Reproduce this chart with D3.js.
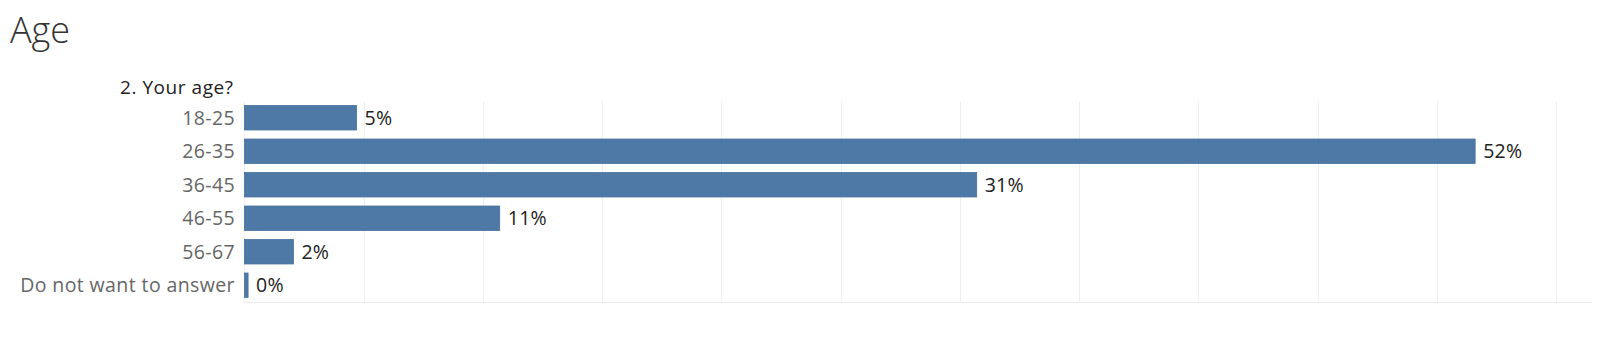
<!DOCTYPE html>
<html>
<head>
<meta charset="utf-8">
<script src="https://cdn.jsdelivr.net/npm/d3@7"></script>
<style>
  body { margin: 0; background: #fff; }
  text { font-family: "Open Sans", sans-serif; }
</style>
</head>
<body>
<div id="chart"></div>
<script>
// data (shares of respondents)
var categories = ["18-25", "26-35", "36-45", "46-55", "56-67", "Do not want to answer"];
var shares = [0.047, 0.516, 0.307, 0.107, 0.0205, 0.0015];
var gridTicks = [0.05, 0.10, 0.15, 0.20, 0.25, 0.30, 0.35, 0.40, 0.45, 0.50, 0.55];

var width = 1600, height = 341;
// plot area (note: "top" is reserved on window, so use other names)
var plotLeft = 244.5, plotRight = 1592, plotTop = 101, plotBottom = 302;

var svg = d3.select("#chart").append("svg")
  .attr("width", width)
  .attr("height", height);

var x = d3.scaleLinear().domain([0, 0.565]).range([plotLeft, plotRight]);
var y = d3.scaleBand().domain(categories).range([plotTop, plotBottom])
  .paddingInner(0.27).paddingOuter(0.135);
var fmt = d3.format(".0%");

// title
svg.append("text")
  .attr("x", 10).attr("y", 42.5)
  .attr("font-size", 36).attr("font-weight", 300)
  .attr("fill", "#333")
  .text("Age");

// header of the row shelf
svg.append("text")
  .attr("x", 120).attr("y", 94)
  .attr("font-size", 19).attr("font-weight", 500)
  .attr("textLength", 113).attr("lengthAdjust", "spacing")
  .attr("fill", "#222")
  .text("2. Your age?");

// gridlines
svg.append("g").selectAll("line")
  .data(gridTicks)
  .join("line")
  .attr("x1", function(d) { return Math.round(x(d)) + 0.5; })
  .attr("x2", function(d) { return Math.round(x(d)) + 0.5; })
  .attr("y1", plotTop).attr("y2", plotBottom)
  .attr("stroke", "#efefef");

// zero line + bottom axis line
svg.append("line")
  .attr("x1", plotLeft).attr("x2", plotLeft).attr("y1", plotTop).attr("y2", plotBottom)
  .attr("stroke", "#f0f0f0");
svg.append("line")
  .attr("x1", plotLeft).attr("x2", plotRight)
  .attr("y1", plotBottom + 0.5).attr("y2", plotBottom + 0.5)
  .attr("stroke", "#ececec");

var rows = categories.map(function(c, i) { return {cat: c, v: shares[i]}; });

// bars
svg.append("g").selectAll("rect")
  .data(rows)
  .join("rect")
  .attr("x", x(0))
  .attr("y", function(d) { return y(d.cat); })
  .attr("width", function(d) { return Math.max(3, x(d.v) - x(0)); })
  .attr("height", y.bandwidth())
  .attr("fill", "#4e79a7")
  .attr("stroke", "#44709f")
  .attr("stroke-width", 0.8);

// value labels
svg.append("g").selectAll("text")
  .data(rows)
  .join("text")
  .attr("x", function(d) { return Math.max(x(0) + 3, x(d.v)) + 8; })
  .attr("y", function(d) { return y(d.cat) + y.bandwidth() / 2; })
  .attr("dy", "0.36em")
  .attr("font-size", 19.5)
  .attr("letter-spacing", 0.3)
  .attr("fill", "#222")
  .text(function(d) { return fmt(d.v); });

// category labels
svg.append("g").selectAll("text")
  .data(rows)
  .join("text")
  .attr("x", 235)
  .attr("y", function(d) { return y(d.cat) + y.bandwidth() / 2; })
  .attr("dy", "0.36em")
  .attr("text-anchor", "end")
  .attr("font-size", 19.5)
  .attr("letter-spacing", 0.4)
  .attr("fill", "#666")
  .text(function(d) { return d.cat; });
</script>
</body>
</html>
